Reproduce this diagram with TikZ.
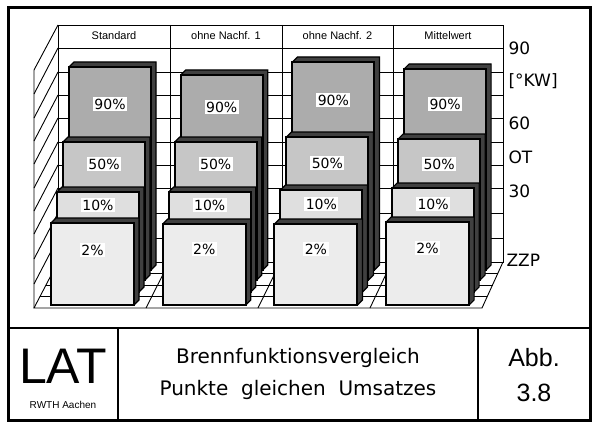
\documentclass[tikz,border=0pt]{standalone}
\usepackage{fontspec}
\setmainfont{DejaVu Sans}
\newfontfamily\thinfont{Liberation Sans}

% one 3D block: name, left, right, top, bottom, fill, label, label y
\newcommand{\barbox}[8]{
  \fill[black!75] (#2,#4) -- ++(5,-5) -- (#3+5,#4-5) -- (#3+5,#5-5) -- (#3,#5) -- cycle;
  \draw[line width=1.2pt] (#2,#4) -- ++(5,-5) -- (#3+5,#4-5) -- (#3+5,#5-5) -- (#3,#5);
  \draw[line width=2pt, fill=#6] (#2,#4) rectangle (#3,#5);
  \node[lbl] (#1) at ({(#2+#3)/2},#8) {#7};
}

\begin{document}
\begin{tikzpicture}[x=1pt, y=-1pt,
    lbl/.style={fill=white, inner sep=1.5pt, font=\fontsize{14}{14}\selectfont},
    head/.style={font=\thinfont\fontsize{11}{11}\selectfont},
    axis/.style={anchor=west, font=\fontsize{17}{17}\selectfont},
    grid/.style={line width=0.9pt}]
  \useasboundingbox (0,0) rectangle (600,428);
  \fill[white] (0,0) rectangle (600,428);

  % frame
  \draw[line width=3pt] (8,8) rectangle (590,420);
  \draw[line width=1.5pt] (8,328) -- (590,328);
  \draw[line width=1.5pt] (118,328) -- (118,420);
  \draw[line width=1.5pt] (478,328) -- (478,420);

  % back wall
  \draw[grid] (58,25) rectangle (503,262);
  \foreach \y in {48,72,95,118,142,165,188,213,238}
    \draw[grid] (58,\y) -- (503,\y);
  \foreach \x in {170,282,393}
    \draw[grid] (\x,25) -- (\x,262);
  % left wall
  \draw[grid] (58,25) -- (34,70) -- (34,308);
  \foreach \y in {48,72,95,118,142,165,188,213,238}
    \draw[grid] (58,\y) -- (34,\y+46);
  % floor
  \draw[grid] (58,262) -- (34,308) -- (482,308) -- (503,262);
  \foreach \t in {0.25,0.5,0.75}
    \draw[grid] (58-24*\t,262+46*\t) -- (503-21*\t,262+46*\t);
  \foreach \k in {1,2,3}
    \draw[grid] (58+111.25*\k,262) -- (34+112*\k,308);

  % headers
  \node[head] (h1) at (114,36) {Standard};
  \node[head] (h2) at (226,36) {ohne Nachf. 1};
  \node[head] (h3) at (337.5,36) {ohne Nachf. 2};
  \node[head] (h4) at (448,36) {Mittelwert};

  % axis labels
  \node[axis] (a90) at (505,48) {90};
  \node[axis] (akw) at (505,81) {[°KW]};
  \node[axis] (a60) at (505,123) {60};
  \node[axis] (aot) at (505,157) {OT};
  \node[axis] (a30) at (505,191) {30};
  \node[axis] (azzp) at (503,260) {ZZP};

  % Standard
  \barbox{s90}{69}{151}{67}{270}{gray!65}{90\%}{104}
  \barbox{s50}{63}{145}{142}{280}{gray!45}{50\%}{164}
  \barbox{s10}{57}{139}{192}{292}{gray!25}{10\%}{205}
  \barbox{s2}{51}{134}{223}{305}{gray!15}{2\%}{250}
  % ohne Nachf. 1
  \barbox{a90}{180.7}{262.7}{75}{270}{gray!65}{90\%}{107}
  \barbox{a50}{174.7}{256.7}{142}{280}{gray!45}{50\%}{164}
  \barbox{a10}{168.7}{250.7}{192}{292}{gray!25}{10\%}{205}
  \barbox{a2}{162.7}{245.7}{224}{305}{gray!15}{2\%}{249}
  % ohne Nachf. 2
  \barbox{b90}{292.4}{374.4}{62}{270}{gray!65}{90\%}{100}
  \barbox{b50}{286.4}{368.4}{137}{280}{gray!45}{50\%}{163}
  \barbox{b10}{280.4}{362.4}{190}{292}{gray!25}{10\%}{204}
  \barbox{b2}{274.4}{357.4}{224}{305}{gray!15}{2\%}{249}
  % Mittelwert
  \barbox{m90}{404.1}{486.1}{69}{270}{gray!65}{90\%}{104}
  \barbox{m50}{398.1}{480.1}{139}{280}{gray!45}{50\%}{164}
  \barbox{m10}{392.1}{474.1}{188}{292}{gray!25}{10\%}{204}
  \barbox{m2}{386.1}{469.1}{222}{305}{gray!15}{2\%}{248}

  % bottom panel
  \node[font=\thinfont\fontsize{50}{50}\selectfont] (lat) at (63,366) {LAT};
  \node[font=\thinfont\fontsize{10}{10}\selectfont] (rwth) at (63,405) {RWTH Aachen};
  \node[font=\fontsize{20}{20}\selectfont] (t1) at (298,358) {Brennfunktionsvergleich};
  \node[font=\fontsize{20}{20}\selectfont] (t2) at (298,390) {Punkte\ \ gleichen\ \ Umsatzes};
  \node[font=\thinfont\fontsize{25}{25}\selectfont] (abb) at (534,358) {Abb.};
  \node[font=\thinfont\fontsize{25}{25}\selectfont] (nr) at (534,393) {3.8};
\end{tikzpicture}
\end{document}
